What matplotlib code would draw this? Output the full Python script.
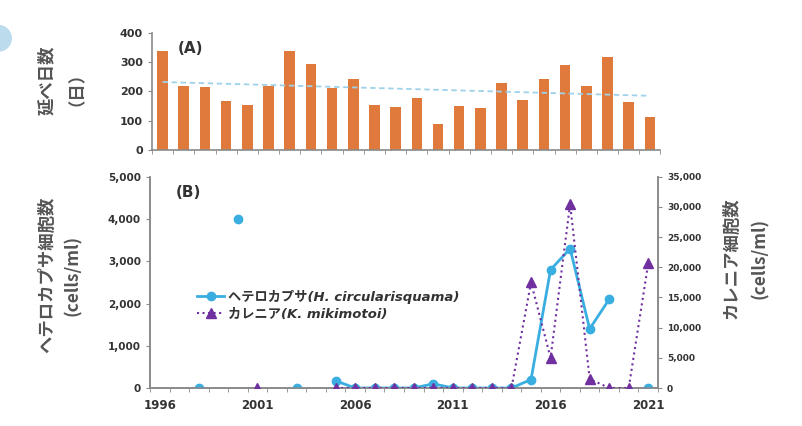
import numpy as np
import matplotlib
matplotlib.use("Agg")
import matplotlib.pyplot as plt
from matplotlib.patches import Ellipse
from matplotlib.ticker import FuncFormatter, MultipleLocator

plt.rcParams['font.family'] = ['DejaVu Sans', 'Noto Sans CJK JP']
JP = ['Noto Sans CJK JP', 'DejaVu Sans']
LAT = ['DejaVu Sans', 'Noto Sans CJK JP']

# (A) 延べ日数 (24 years)
days = [338, 218, 215, 167, 155, 218, 340, 295, 213, 244, 155, 147,
        176, 88, 150, 145, 230, 170, 241, 292, 220, 317, 164, 111]

# (B) cell counts
years = list(range(1996, 2022))
hetero = [np.nan, np.nan, 0, np.nan, 4000, np.nan, np.nan, 0, np.nan, 170,
          0, 0, 0, 0, 100, 0, 0, 0, 0, 200,
          2800, 3300, 1400, 2100, np.nan, 0]
karenia = [np.nan, np.nan, np.nan, np.nan, np.nan, 0, np.nan, np.nan, np.nan, 0,
           0, 0, 0, 0, 0, 0, 0, 0, 0, 17500,
           5000, 30500, 1500, 0, 0, 20700]

TXT = '#333333'
LBL = '#555555'
SP = '#8a8a8a'

fig = plt.figure(figsize=(8.02, 4.26), dpi=100)
fig.patches.append(Ellipse((-0.002, 0.91), 0.032, 0.06, transform=fig.transFigure,
                           color='#bcdcee', zorder=0))

# ---- top panel
ax1 = fig.add_axes([0.1895, 0.648, 0.634, 0.2746])
x = np.arange(len(days))
ax1.bar(x, days, width=0.5, color='#e07a3c', zorder=2)
k, b = np.polyfit(x, days, 1)
ax1.plot(x, k * x + b, color='#9ed2ea', ls=(0, (3, 2)), lw=1.3, zorder=3)
ax1.set_xlim(-0.5, len(days) - 0.5)
ax1.set_ylim(0, 400)
ax1.set_yticks([0, 100, 200, 300, 400])
ax1.set_xticks([])
ax1.set_xticks(np.arange(-0.5, len(days)), minor=True)
ax1.tick_params(axis='x', which='minor', length=3, color=SP, direction='out')
ax1.tick_params(axis='y', length=3, color=SP, labelsize=8, labelcolor=TXT)
for t in ax1.get_yticklabels():
    t.set_fontweight('bold')
for s in ['top', 'right']:
    ax1.spines[s].set_visible(False)
for s in ['left', 'bottom']:
    ax1.spines[s].set_color(SP)
    ax1.spines[s].set_linewidth(1.2)
ax1.text(0.05, 0.93, '(A)', transform=ax1.transAxes, fontsize=11,
         fontweight='bold', color=TXT, va='top')
ax1.set_ylabel('延べ日数\n（日）', family=JP, fontsize=12.5, color=LBL,
               fontweight='bold', linespacing=1.25, va='center')
ax1.yaxis.set_label_coords(-0.186, 0.6)

# ---- bottom panel
ax2 = fig.add_axes([0.187, 0.0892, 0.6335, 0.4958])
ax3 = ax2.twinx()
ax2.plot(years, hetero, color='#3aaee0', lw=2, marker='o', ms=6,
         label='ヘテロカプサ(H. circularisquama)', zorder=3)
ax3.plot(years, karenia, color='#7030a0', lw=1.5, ls=':', marker='^', ms=6.5,
         label='カレニア(K. mikimotoi)', zorder=3)
ax2.set_xlim(1995.5, 2021.5)
ax2.set_ylim(0, 5000)
ax3.set_ylim(0, 35000)
ax2.yaxis.set_major_locator(MultipleLocator(1000))
ax3.yaxis.set_major_locator(MultipleLocator(5000))
fmt = FuncFormatter(lambda v, p: f'{int(v):,}')
ax2.yaxis.set_major_formatter(fmt)
ax3.yaxis.set_major_formatter(fmt)
ax2.set_xticks([1996, 2001, 2006, 2011, 2016, 2021])
ax2.set_xticks(np.arange(1995.5, 2022), minor=True)
ax2.tick_params(axis='x', which='major', length=0, labelsize=8.5,
                labelcolor=TXT, pad=8)
ax2.tick_params(axis='x', which='minor', length=3, color=SP)
ax2.tick_params(axis='y', length=3, color=SP, labelsize=7.5, labelcolor=TXT)
ax3.tick_params(axis='y', length=3, color=SP, labelsize=6.5, labelcolor=TXT)
for t in ax2.get_xticklabels() + ax2.get_yticklabels() + ax3.get_yticklabels():
    t.set_fontweight('bold')
for a in (ax2, ax3):
    a.spines['top'].set_visible(False)
    for s in ['left', 'bottom', 'right']:
        a.spines[s].set_color(SP)
        a.spines[s].set_linewidth(1.2)
ax2.text(0.05, 0.96, '(B)', transform=ax2.transAxes, fontsize=11,
         fontweight='bold', color=TXT, va='top')
ax2.set_ylabel('ヘテロカプサ細胞数\n(cells/ml)', family=JP, fontsize=12.5,
               color=LBL, fontweight='bold', linespacing=1.5, va='center')
ax2.yaxis.set_label_coords(-0.177, 0.535)
ax3.set_ylabel('カレニア細胞数\n(cells/ml)', family=JP, fontsize=12.5,
               color=LBL, fontweight='bold', linespacing=1.75, va='center')
ax3.yaxis.set_label_coords(1.172, 0.615)

h2, l2 = ax2.get_legend_handles_labels()
h3, l3 = ax3.get_legend_handles_labels()
leg = ax3.legend(h2 + h3, l2 + l3, loc='upper left',
                 bbox_to_anchor=(0.07, 0.52), frameon=False, handlelength=2,
                 handletextpad=0.3, labelspacing=0.3,
                 prop={'family': LAT, 'style': 'italic', 'weight': 'bold',
                       'size': 9.5})
for t in leg.get_texts():
    t.set_color(TXT)

fig.savefig('out.png', dpi=100)
